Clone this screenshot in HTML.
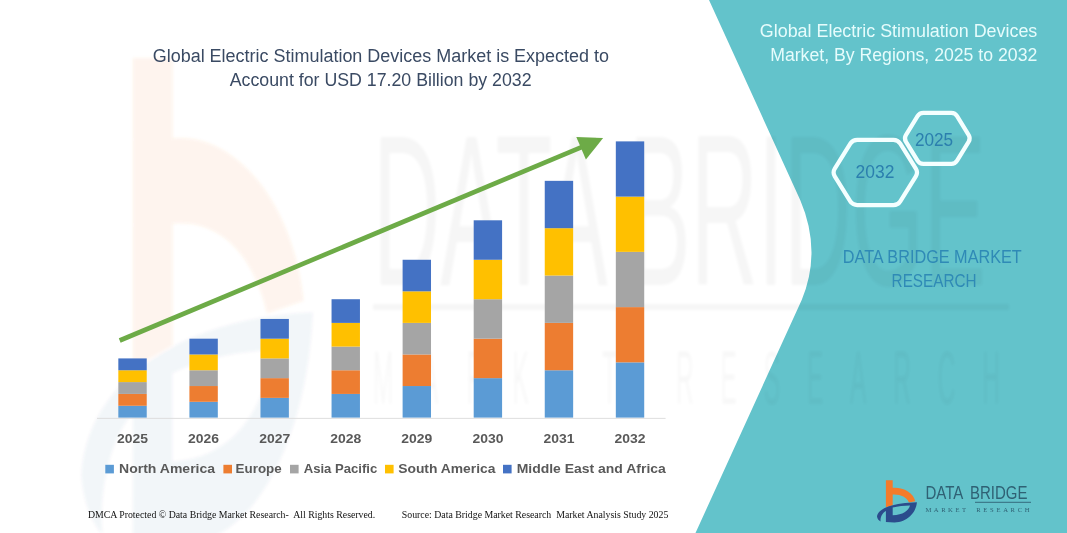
<!DOCTYPE html>
<html lang="en">
<head>
<meta charset="utf-8">
<title>Global Electric Stimulation Devices Market</title>
<style>
  html, body { margin: 0; padding: 0; background: #ffffff; }
  body { width: 1067px; height: 533px; overflow: hidden; position: relative; }
  svg { position: absolute; left: 0; top: 0; display: block; }
  text { font-family: "Liberation Sans", sans-serif; }
  .serif text, text.serif { font-family: "Liberation Serif", serif; }
</style>
</head>
<body>
<svg width="1067" height="533" viewBox="0 0 1067 533">
  <defs>
    <filter id="soft" x="-5%" y="-5%" width="110%" height="110%"><feGaussianBlur stdDeviation="1.5"/></filter>
  </defs>

  <!-- faint watermark, left part -->
  <g id="wm-left" filter="url(#soft)">
    <g transform="matrix(5.8 0 0 11.5 -5005.2 -5464.3)">
      <path d="M885.9 480.2 L892.7 480.2 L892.7 487.2 C903 486.6 913.5 492.5 915.3 501.3 L909 502.4 C906.5 497 900.5 494.2 892.7 494.6 L892.7 505.2 L885.9 507.2 Z" fill="#F47B2A" opacity="0.085"/>
      <path d="M877 516.5 C878 508 895 502.8 916.9 502.3 C916 513 907 522.5 894.3 522.4 L885.9 522 L885.9 511 C882.5 513 880 517 880.6 521.6 C878.5 520.5 877.3 518.5 877 516.5 Z M892.7 507.6 C898 506.3 904 505.7 910 505.6 C908.5 511 903 515 892.7 515.3 Z" fill="#2B4C8C" fill-rule="evenodd" opacity="0.05"/>
    </g>
  </g>

  <!-- teal panel -->
  <path id="teal" d="M709 0 L1067 0 L1067 533 L695.5 533 L801.7 300 Q822 251 800.2 200 Z" fill="#63C3CB"/>

  <!-- faint watermark lettering -->
  <g id="wm-text" filter="url(#soft)" fill="#000000" opacity="0.036">
    <text x="373" y="285" font-size="216" textLength="613" lengthAdjust="spacingAndGlyphs">DATA BRIDGE</text>
    <rect x="373" y="304" width="636" height="6"/>
    <g transform="scale(0.65 2)" font-size="37.7" opacity="0.8">
      <text x="573.8" y="202" textLength="375.4" lengthAdjust="spacing">MARKET</text>
      <text x="1040" y="202" textLength="498.5" lengthAdjust="spacing">RESEARCH</text>
    </g>
  </g>

  <!-- axis -->
  <line x1="97" y1="418.4" x2="665.6" y2="418.4" stroke="#DADADA" stroke-width="0.9"/>

  <!-- bars -->
  <g id="bars">
    <rect x="118.33" y="405.76" width="28.40" height="11.84" fill="#5B9BD5"/>
    <rect x="118.33" y="393.92" width="28.40" height="11.84" fill="#ED7D31"/>
    <rect x="118.33" y="382.09" width="28.40" height="11.84" fill="#A5A5A5"/>
    <rect x="118.33" y="370.25" width="28.40" height="11.84" fill="#FFC000"/>
    <rect x="118.33" y="358.41" width="28.40" height="11.84" fill="#4472C4"/>
    <rect x="189.41" y="401.82" width="28.40" height="15.78" fill="#5B9BD5"/>
    <rect x="189.41" y="386.03" width="28.40" height="15.78" fill="#ED7D31"/>
    <rect x="189.41" y="370.25" width="28.40" height="15.78" fill="#A5A5A5"/>
    <rect x="189.41" y="354.46" width="28.40" height="15.78" fill="#FFC000"/>
    <rect x="189.41" y="338.68" width="28.40" height="15.78" fill="#4472C4"/>
    <rect x="260.47" y="397.87" width="28.40" height="19.73" fill="#5B9BD5"/>
    <rect x="260.47" y="378.14" width="28.40" height="19.73" fill="#ED7D31"/>
    <rect x="260.47" y="358.41" width="28.40" height="19.73" fill="#A5A5A5"/>
    <rect x="260.47" y="338.68" width="28.40" height="19.73" fill="#FFC000"/>
    <rect x="260.47" y="318.95" width="28.40" height="19.73" fill="#4472C4"/>
    <rect x="331.55" y="393.92" width="28.40" height="23.68" fill="#5B9BD5"/>
    <rect x="331.55" y="370.25" width="28.40" height="23.68" fill="#ED7D31"/>
    <rect x="331.55" y="346.57" width="28.40" height="23.68" fill="#A5A5A5"/>
    <rect x="331.55" y="322.90" width="28.40" height="23.68" fill="#FFC000"/>
    <rect x="331.55" y="299.22" width="28.40" height="23.68" fill="#4472C4"/>
    <rect x="402.61" y="386.03" width="28.40" height="31.57" fill="#5B9BD5"/>
    <rect x="402.61" y="354.46" width="28.40" height="31.57" fill="#ED7D31"/>
    <rect x="402.61" y="322.90" width="28.40" height="31.57" fill="#A5A5A5"/>
    <rect x="402.61" y="291.33" width="28.40" height="31.57" fill="#FFC000"/>
    <rect x="402.61" y="259.76" width="28.40" height="31.57" fill="#4472C4"/>
    <rect x="473.69" y="378.14" width="28.40" height="39.46" fill="#5B9BD5"/>
    <rect x="473.69" y="338.68" width="28.40" height="39.46" fill="#ED7D31"/>
    <rect x="473.69" y="299.22" width="28.40" height="39.46" fill="#A5A5A5"/>
    <rect x="473.69" y="259.76" width="28.40" height="39.46" fill="#FFC000"/>
    <rect x="473.69" y="220.30" width="28.40" height="39.46" fill="#4472C4"/>
    <rect x="544.75" y="370.25" width="28.40" height="47.35" fill="#5B9BD5"/>
    <rect x="544.75" y="322.90" width="28.40" height="47.35" fill="#ED7D31"/>
    <rect x="544.75" y="275.54" width="28.40" height="47.35" fill="#A5A5A5"/>
    <rect x="544.75" y="228.19" width="28.40" height="47.35" fill="#FFC000"/>
    <rect x="544.75" y="180.84" width="28.40" height="47.35" fill="#4472C4"/>
    <rect x="615.82" y="362.36" width="28.40" height="55.24" fill="#5B9BD5"/>
    <rect x="615.82" y="307.11" width="28.40" height="55.24" fill="#ED7D31"/>
    <rect x="615.82" y="251.87" width="28.40" height="55.24" fill="#A5A5A5"/>
    <rect x="615.82" y="196.62" width="28.40" height="55.24" fill="#FFC000"/>
    <rect x="615.82" y="141.38" width="28.40" height="55.24" fill="#4472C4"/>
  </g>

  <!-- arrow -->
  <g id="arrow">
    <line x1="119.7" y1="340.5" x2="584" y2="146.2" stroke="#6DAB47" stroke-width="4.7"/>
    <polygon points="603.1,138.1 576.3,137.1 585.9,159.4" fill="#6DAB47"/>
  </g>

  <!-- chart title -->
  <g font-size="18" fill="#3A4A63">
    <text x="152.7" y="61.8" textLength="456.3" lengthAdjust="spacingAndGlyphs">Global Electric Stimulation Devices Market is Expected to</text>
    <text x="229.7" y="86.2" textLength="301.9" lengthAdjust="spacingAndGlyphs">Account for USD 17.20 Billion by 2032</text>
  </g>

  <!-- year labels -->
  <g font-size="13.3" font-weight="bold" fill="#595959">
    <text x="132.5" y="442.5" text-anchor="middle" textLength="31" lengthAdjust="spacingAndGlyphs">2025</text>
    <text x="203.6" y="442.5" text-anchor="middle" textLength="31" lengthAdjust="spacingAndGlyphs">2026</text>
    <text x="274.7" y="442.5" text-anchor="middle" textLength="31" lengthAdjust="spacingAndGlyphs">2027</text>
    <text x="345.7" y="442.5" text-anchor="middle" textLength="31" lengthAdjust="spacingAndGlyphs">2028</text>
    <text x="416.8" y="442.5" text-anchor="middle" textLength="31" lengthAdjust="spacingAndGlyphs">2029</text>
    <text x="487.9" y="442.5" text-anchor="middle" textLength="31" lengthAdjust="spacingAndGlyphs">2030</text>
    <text x="559.0" y="442.5" text-anchor="middle" textLength="31" lengthAdjust="spacingAndGlyphs">2031</text>
    <text x="630.0" y="442.5" text-anchor="middle" textLength="31" lengthAdjust="spacingAndGlyphs">2032</text>
  </g>

  <!-- legend -->
  <g font-size="13.4" font-weight="bold" fill="#595959">
    <rect x="105.3" y="464.8" width="8.6" height="8.6" fill="#5B9BD5"/>
    <text x="119.0" y="473.3" textLength="96.1" lengthAdjust="spacingAndGlyphs">North America</text>
    <rect x="223.4" y="464.8" width="8.6" height="8.6" fill="#ED7D31"/>
    <text x="235.6" y="473.3" textLength="46.1" lengthAdjust="spacingAndGlyphs">Europe</text>
    <rect x="290.0" y="464.8" width="8.6" height="8.6" fill="#A5A5A5"/>
    <text x="303.7" y="473.3" textLength="73.6" lengthAdjust="spacingAndGlyphs">Asia Pacific</text>
    <rect x="385.0" y="464.8" width="8.6" height="8.6" fill="#FFC000"/>
    <text x="398.2" y="473.3" textLength="97.3" lengthAdjust="spacingAndGlyphs">South America</text>
    <rect x="503.0" y="464.8" width="8.6" height="8.6" fill="#4472C4"/>
    <text x="516.7" y="473.3" textLength="149.1" lengthAdjust="spacingAndGlyphs">Middle East and Africa</text>
  </g>

  <!-- footer -->
  <g class="serif" font-size="10" fill="#111111">
    <text x="87.9" y="517.7" textLength="287.3" lengthAdjust="spacingAndGlyphs" xml:space="preserve">DMCA Protected © Data Bridge Market Research-  All Rights Reserved.</text>
    <text x="401.8" y="517.7" textLength="266.5" lengthAdjust="spacingAndGlyphs" xml:space="preserve">Source: Data Bridge Market Research  Market Analysis Study 2025</text>
  </g>

  <!-- right panel title -->
  <g font-size="18" fill="#E6FCFC">
    <text x="759.8" y="37.3" textLength="277.5" lengthAdjust="spacingAndGlyphs">Global Electric Stimulation Devices</text>
    <text x="770.2" y="60.9" textLength="267.1" lengthAdjust="spacingAndGlyphs">Market, By Regions, 2025 to 2032</text>
  </g>

  <!-- hexagons -->
  <g fill="none" stroke="#F4FFFF" stroke-width="4.2" stroke-linejoin="round">
    <path d="M834.78 176.32 Q832.40 172.50 834.78 168.68 L850.32 143.72 Q852.70 139.90 857.20 139.90 L893.40 139.90 Q897.90 139.90 900.28 143.72 L915.82 168.68 Q918.20 172.50 915.82 176.32 L900.28 201.28 Q897.90 205.10 893.40 205.10 L857.20 205.10 Q852.70 205.10 850.32 201.28 Z"/>
    <path d="M905.88 141.64 Q903.90 138.40 905.88 135.16 L917.52 116.14 Q919.50 112.90 923.30 112.90 L951.30 112.90 Q955.10 112.90 957.08 116.14 L968.72 135.16 Q970.70 138.40 968.72 141.64 L957.08 160.66 Q955.10 163.90 951.30 163.90 L923.30 163.90 Q919.50 163.90 917.52 160.66 Z"/>
  </g>
  <g font-size="17.5" fill="#2B7FAE">
    <text x="855.6" y="178.1" textLength="38.8" lengthAdjust="spacingAndGlyphs">2032</text>
    <text x="914.9" y="146" textLength="38.2" lengthAdjust="spacingAndGlyphs">2025</text>
  </g>

  <!-- DBMR label -->
  <g font-size="17.8" fill="#2F8AB6">
    <text x="842.8" y="262.6" textLength="179" lengthAdjust="spacingAndGlyphs">DATA BRIDGE MARKET</text>
    <text x="891.6" y="286.6" textLength="85" lengthAdjust="spacingAndGlyphs">RESEARCH</text>
  </g>

  <!-- logo -->
  <g id="logo">
    <path d="M885.9 480.2 L892.7 480.2 L892.7 487.8 C903 487 913.5 492.5 915.3 501.3 L909 502.4 C906.5 497 900.5 494.2 892.7 494.6 L892.7 505.2 L885.9 507.2 Z" fill="#F47B2A"/>
    <path d="M877 516.5 C878 508 895 502.8 916.9 502.3 C916 513 907 522.5 894.3 522.4 L885.9 522 L885.9 511 C882.5 513 880 517 880.6 521.6 C878.5 520.5 877.3 518.5 877 516.5 Z M892.7 507.6 C898 506.3 904 505.7 910 505.6 C908.5 511 903 515 892.7 515.3 Z" fill="#2B4C8C" fill-rule="evenodd"/>
    <g font-size="18" fill="#2F6174">
      <text x="925.4" y="499.4" textLength="37.9" lengthAdjust="spacingAndGlyphs">DATA</text>
      <text x="970" y="499.4" textLength="57.4" lengthAdjust="spacingAndGlyphs">BRIDGE</text>
    </g>
    <line x1="975" y1="502.3" x2="1031" y2="502.3" stroke="#2F6174" stroke-width="0.9"/>
    <g font-size="6.6" fill="#2F6174" class="serif">
      <text x="925.4" y="511.5" textLength="40.6" lengthAdjust="spacing">MARKET</text>
      <text x="976.2" y="511.5" textLength="53.4" lengthAdjust="spacing">RESEARCH</text>
    </g>
  </g>
</svg>
</body>
</html>
